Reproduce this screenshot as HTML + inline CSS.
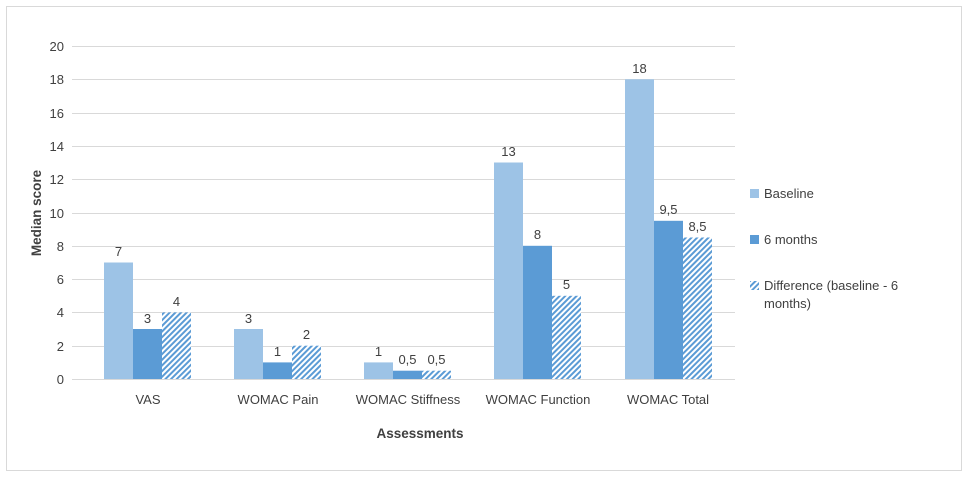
<!DOCTYPE html>
<html><head><meta charset="utf-8"><style>body{margin:0;background:#fff}svg{display:block}text{font-family:"Liberation Sans",sans-serif;fill:#404040}</style></head><body>
<svg width="968" height="478" viewBox="0 0 968 478" xmlns="http://www.w3.org/2000/svg">
<defs><pattern id="h" patternUnits="userSpaceOnUse" width="4" height="4" patternTransform="rotate(45)"><rect width="4" height="4" fill="#fff"/><rect width="2" height="4" fill="#5B9BD5"/></pattern></defs>
<rect x="6.5" y="6.5" width="955" height="464" fill="#fff" stroke="#d9d9d9"/>
<g stroke="#d9d9d9" stroke-width="1">
<line x1="72" x2="735" y1="46.5" y2="46.5"/><line x1="72" x2="735" y1="79.5" y2="79.5"/><line x1="72" x2="735" y1="113.5" y2="113.5"/><line x1="72" x2="735" y1="146.5" y2="146.5"/><line x1="72" x2="735" y1="179.5" y2="179.5"/><line x1="72" x2="735" y1="213.5" y2="213.5"/><line x1="72" x2="735" y1="246.5" y2="246.5"/><line x1="72" x2="735" y1="279.5" y2="279.5"/><line x1="72" x2="735" y1="312.5" y2="312.5"/><line x1="72" x2="735" y1="346.5" y2="346.5"/><line x1="72" x2="735" y1="379.5" y2="379.5"/>
</g>
<g font-size="13" text-anchor="end"><text x="64" y="51">20</text><text x="64" y="84">18</text><text x="64" y="118">16</text><text x="64" y="151">14</text><text x="64" y="184">12</text><text x="64" y="218">10</text><text x="64" y="251">8</text><text x="64" y="284">6</text><text x="64" y="317">4</text><text x="64" y="351">2</text><text x="64" y="384">0</text></g>
<g>
<rect x="104" y="262.5" width="29" height="116.5" fill="#9DC3E6"/><rect x="133" y="329" width="29" height="50" fill="#5B9BD5"/><rect x="162" y="312.4" width="29" height="66.6" fill="url(#h)"/>
<rect x="234" y="329" width="29" height="50" fill="#9DC3E6"/><rect x="263" y="362.4" width="29" height="16.6" fill="#5B9BD5"/><rect x="292" y="345.7" width="29" height="33.3" fill="url(#h)"/>
<rect x="364" y="362.4" width="29" height="16.6" fill="#9DC3E6"/><rect x="393" y="370.7" width="29" height="8.3" fill="#5B9BD5"/><rect x="422" y="370.7" width="29" height="8.3" fill="url(#h)"/>
<rect x="494" y="162.5" width="29" height="216.5" fill="#9DC3E6"/><rect x="523" y="245.8" width="29" height="133.2" fill="#5B9BD5"/><rect x="552" y="295.8" width="29" height="83.2" fill="url(#h)"/>
<rect x="625" y="79.3" width="29" height="299.7" fill="#9DC3E6"/><rect x="654" y="220.8" width="29" height="158.2" fill="#5B9BD5"/><rect x="683" y="237.5" width="29" height="141.5" fill="url(#h)"/>
</g>
<g font-size="13" text-anchor="middle">
<text x="118.5" y="256">7</text><text x="147.5" y="323">3</text><text x="176.5" y="306">4</text>
<text x="248.5" y="323">3</text><text x="277.5" y="356">1</text><text x="306.5" y="339">2</text>
<text x="378.5" y="356">1</text><text x="407.5" y="364">0,5</text><text x="436.5" y="364">0,5</text>
<text x="508.5" y="156">13</text><text x="537.5" y="239">8</text><text x="566.5" y="289">5</text>
<text x="639.5" y="73">18</text><text x="668.5" y="214">9,5</text><text x="697.5" y="231">8,5</text>
<text x="148" y="404">VAS</text><text x="278" y="404">WOMAC Pain</text><text x="408" y="404">WOMAC Stiffness</text><text x="538" y="404">WOMAC Function</text><text x="668" y="404">WOMAC Total</text>
</g>
<text x="420" y="438" font-size="13.5" font-weight="bold" text-anchor="middle">Assessments</text>
<text transform="translate(41,213) rotate(-90)" font-size="13.5" font-weight="bold" text-anchor="middle">Median score</text>
<g font-size="13">
<rect x="750" y="189" width="9" height="9" fill="#9DC3E6"/><text x="764" y="198">Baseline</text>
<rect x="750" y="235" width="9" height="9" fill="#5B9BD5"/><text x="764" y="244">6 months</text>
<rect x="750" y="281" width="9" height="9" fill="url(#h)"/><text x="764" y="290">Difference (baseline - 6</text><text x="764" y="308">months)</text>
</g>
</svg>
</body></html>
